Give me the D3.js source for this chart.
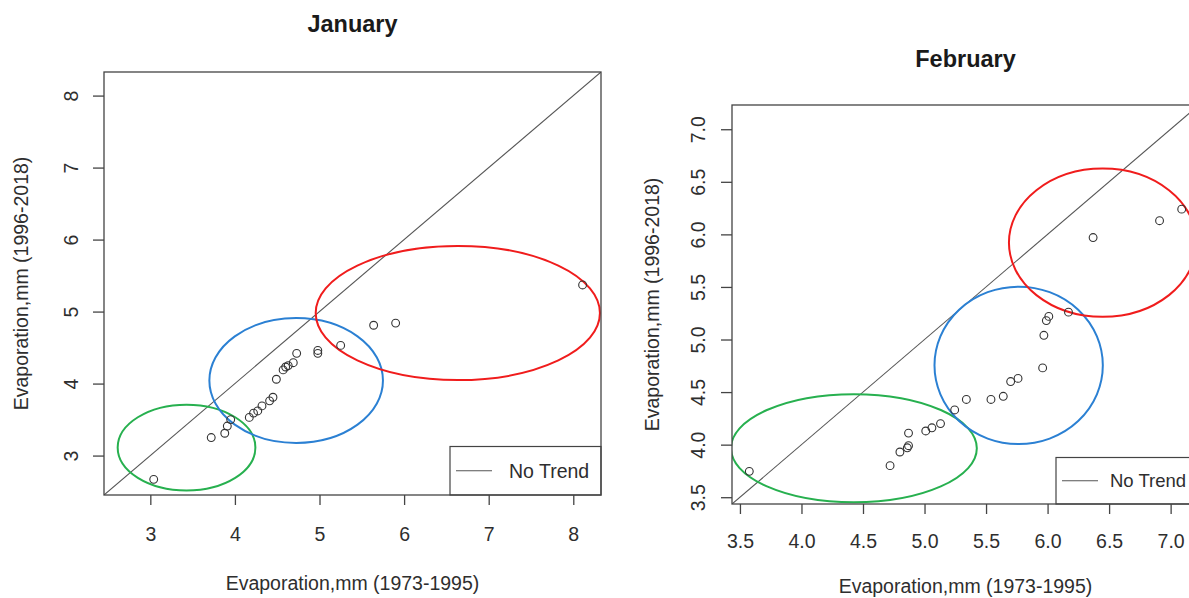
<!DOCTYPE html>
<html>
<head>
<meta charset="utf-8">
<script src="https://cdn.jsdelivr.net/npm/d3@7"></script>
<style>
html,body{margin:0;padding:0;background:#fff;overflow:hidden;}
svg{display:block;font-family:"Liberation Sans",Arial,sans-serif;}
</style>
</head>
<body>
<svg id="chart" width="1189" height="598"></svg>
<script>
// ---------- DATA ----------
const janX = [3.04,3.72,3.88,3.91,3.95,4.17,4.22,4.27,4.32,4.41,4.45,4.49,4.57,4.60,4.63,4.69,4.73,4.98,4.98,5.25,5.64,5.90,8.11];
const janY = [2.67,3.25,3.31,3.41,3.50,3.53,3.59,3.62,3.69,3.76,3.81,4.06,4.19,4.23,4.25,4.29,4.42,4.42,4.46,4.53,4.81,4.84,5.37];
const febX = [3.576,4.72,4.80,4.86,4.87,4.87,5.01,5.06,5.13,5.245,5.34,5.54,5.64,5.70,5.76,5.96,5.97,5.99,6.01,6.17,6.37,6.91,7.09];
const febY = [3.746,3.80,3.93,3.97,3.99,4.11,4.13,4.16,4.20,4.33,4.43,4.43,4.46,4.60,4.63,4.73,5.04,5.18,5.22,5.26,5.97,6.13,6.24];
const janTicks = [3,4,5,6,7,8];
const febTicks = [3.5,4.0,4.5,5.0,5.5,6.0,6.5,7.0];
// ellipses: [cx, cy, rx, ry] in data units
const janEllipses = [
  {name:"low",  c:[3.428,3.111], r:[0.814,0.596], color:"#27b04f"},
  {name:"mid",  c:[4.724,4.043], r:[1.026,0.867], color:"#2b80d3"},
  {name:"high", c:[6.635,4.980], r:[1.680,0.932], color:"#f01c1c"}
];
const febEllipses = [
  {name:"low",  c:[4.426,3.966], r:[0.999,0.514], color:"#27b04f"},
  {name:"mid",  c:[5.765,4.754], r:[0.684,0.749], color:"#2b80d3"},
  {name:"high", c:[6.448,5.921], r:[0.762,0.705], color:"#f01c1c"}
];
const xLabel = "Evaporation,mm (1973-1995)";
const yLabel = "Evaporation,mm (1996-2018)";
const legendLabel = "No Trend";

// ---------- DRAW ----------
const svg = d3.select("#chart");
const FONT = 19.5;
const ink = "#2e2e2e";

function panel(cfg){
  const {id, xs, ys, ticks, fmt, ellipses, title, box, titleY, xTickY, yTickX, xLabY, yLabX, legend} = cfg;
  const all = xs.concat(ys);
  const ext = d3.extent(all);
  const pad = (ext[1]-ext[0])*0.04;
  const dom = [ext[0]-pad, ext[1]+pad];
  const x = d3.scaleLinear().domain(dom).range([box.l, box.r]);
  const y = d3.scaleLinear().domain(dom).range([box.b, box.t]);
  const g = svg.append("g");

  g.append("clipPath").attr("id","clip"+id).append("rect")
    .attr("x",box.l).attr("y",box.t).attr("width",box.r-box.l).attr("height",box.b-box.t);
  const inner = g.append("g").attr("clip-path","url(#clip"+id+")");

  // 1:1 line
  inner.append("line")
    .attr("x1",x(dom[0])).attr("y1",y(dom[0]))
    .attr("x2",x(dom[1])).attr("y2",y(dom[1]))
    .attr("stroke","#555").attr("stroke-width",1.1);

  // ellipses
  inner.selectAll("ellipse").data(ellipses).join("ellipse")
    .attr("cx",d=>x(d.c[0])).attr("cy",d=>y(d.c[1]))
    .attr("rx",d=>x(d.c[0]+d.r[0])-x(d.c[0]))
    .attr("ry",d=>y(d.c[1])-y(d.c[1]+d.r[1]))
    .attr("fill","none").attr("stroke",d=>d.color).attr("stroke-width",2);

  // points
  inner.selectAll("circle").data(xs.map((v,i)=>[v,ys[i]])).join("circle")
    .attr("cx",d=>x(d[0])).attr("cy",d=>y(d[1])).attr("r",3.9)
    .attr("fill","none").attr("stroke","#333").attr("stroke-width",1.1);

  // legend
  const lg = g.append("g");
  lg.append("rect").attr("x",legend.x).attr("y",legend.y)
    .attr("width",151).attr("height",box.b-legend.y)
    .attr("fill","#fff").attr("stroke","#444").attr("stroke-width",1.2);
  lg.append("line").attr("x1",legend.x+6).attr("x2",legend.x+42)
    .attr("y1",(legend.y+box.b)/2).attr("y2",(legend.y+box.b)/2)
    .attr("stroke","#555").attr("stroke-width",1.1);
  lg.append("text").attr("x",legend.x+legend.tx).attr("y",(legend.y+box.b)/2)
    .attr("dominant-baseline","central").attr("font-size",legend.fs).attr("fill",ink)
    .text(legendLabel);

  // box
  g.append("rect").attr("x",box.l).attr("y",box.t)
    .attr("width",box.r-box.l).attr("height",box.b-box.t)
    .attr("fill","none").attr("stroke","#444").attr("stroke-width",1.3);

  // x axis ticks
  const xa = d3.axisBottom(x).tickValues(ticks).tickFormat(fmt).tickSize(10).tickSizeOuter(0);
  const gx = g.append("g").attr("transform",`translate(0,${box.b})`).call(xa);
  gx.select(".domain").remove();
  gx.selectAll(".tick line").attr("stroke","#444").attr("stroke-width",1.3);
  gx.selectAll(".tick text").attr("font-size",FONT).attr("fill",ink)
    .attr("font-family","Liberation Sans, Arial, sans-serif")
    .attr("y",xTickY-box.b).attr("dy",null).attr("dominant-baseline","central");

  // y axis ticks
  const ya = d3.axisLeft(y).tickValues(ticks).tickFormat(fmt).tickSize(11).tickSizeOuter(0);
  const gy = g.append("g").attr("transform",`translate(${box.l},0)`).call(ya);
  gy.select(".domain").remove();
  gy.selectAll(".tick line").attr("stroke","#444").attr("stroke-width",1.3);
  gy.selectAll(".tick text").attr("font-size",FONT).attr("fill",ink)
    .attr("font-family","Liberation Sans, Arial, sans-serif")
    .attr("x",null).attr("dy",null)
    .attr("text-anchor","middle").attr("dominant-baseline","central")
    .attr("transform",`translate(${yTickX-box.l},0) rotate(-90)`);

  // titles
  g.append("text").attr("x",(box.l+box.r)/2).attr("y",titleY)
    .attr("text-anchor","middle").attr("font-size",23.5).attr("font-weight","bold").attr("fill","#1a1a1a")
    .text(title);
  g.append("text").attr("x",(box.l+box.r)/2).attr("y",xLabY)
    .attr("text-anchor","middle").attr("dominant-baseline","central")
    .attr("font-size",FONT).attr("fill",ink).text(xLabel);
  g.append("text").attr("transform",`translate(${yLabX},${(box.t+box.b)/2}) rotate(-90)`)
    .attr("text-anchor","middle").attr("dominant-baseline","central")
    .attr("font-size",FONT).attr("fill",ink).text(yLabel);
}

panel({id:"jan", xs:janX, ys:janY, ticks:janTicks, fmt:d3.format("d"), ellipses:janEllipses,
  title:"January", box:{l:104,r:601,t:72,b:495}, titleY:32, xTickY:534, yTickX:71,
  xLabY:583, yLabX:21, legend:{x:450,y:446.5,tx:59,fs:19.5}});
panel({id:"feb", xs:febX, ys:febY, ticks:febTicks, fmt:d3.format(".1f"), ellipses:febEllipses,
  title:"February", box:{l:732,r:1199,t:105,b:504}, titleY:67, xTickY:540.5, yTickX:698,
  xLabY:586, yLabX:652, legend:{x:1056,y:457.5,tx:54,fs:18.5}});
</script>
</body>
</html>
